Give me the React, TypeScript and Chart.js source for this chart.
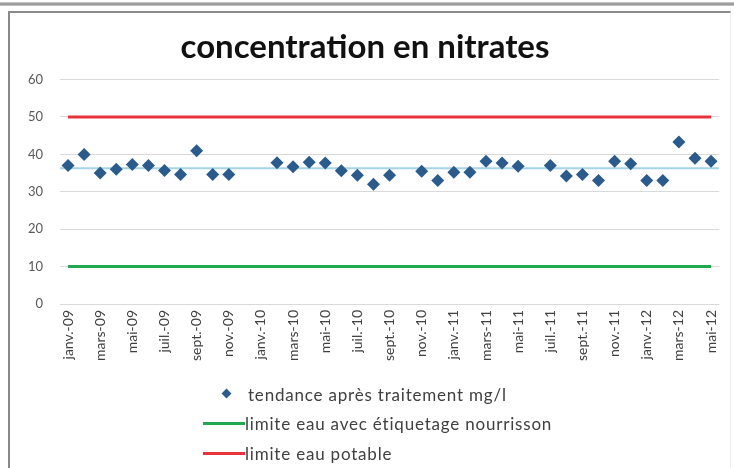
import React, { useEffect, useRef } from "react";
import { Chart, registerables } from "chart.js";

Chart.register(...registerables);

const TITLE = "concentration en nitrates";

const MONTHS = [
  "janv.-09", "févr.-09", "mars-09", "avr.-09", "mai-09", "juin-09", "juil.-09", "août-09", "sept.-09", "oct.-09", "nov.-09", "déc.-09",
  "janv.-10", "févr.-10", "mars-10", "avr.-10", "mai-10", "juin-10", "juil.-10", "août-10", "sept.-10", "oct.-10", "nov.-10", "déc.-10",
  "janv.-11", "févr.-11", "mars-11", "avr.-11", "mai-11", "juin-11", "juil.-11", "août-11", "sept.-11", "oct.-11", "nov.-11", "déc.-11",
  "janv.-12", "févr.-12", "mars-12", "avr.-12", "mai-12",
];

const NITRATES: (number | null)[] = [
  37, 40, 35, 36, 37.3, 37, 35.7, 34.6, 41, 34.6, 34.6, null,
  null, 37.8, 36.7, 37.9, 37.7, 35.6, 34.4, 32, 34.4, null, 35.5, 33,
  35.2, 35.2, 38.2, 37.7, 36.8, null, 37, 34.2, 34.6, 33, 38.2, 37.5,
  33, 33, 43.3, 39, 38.2,
];

const TREND_LEVEL = 36.3;
const LIMIT_INFANT = 10;
const LIMIT_DRINKING = 50;

const Y_TICKS = [0, 10, 20, 30, 40, 50, 60];

const SERIES_LABELS = [
  "tendance après traitement mg/l",
  "limite eau avec étiquetage nourrisson",
  "limite eau potable",
];

const COLORS = {
  marker: "#2b5b8c",
  infant: "#22a84f",
  drinking: "#e8323c",
  trend: "#a6d3e8",
};

const FONT = "Lato, 'Open Sans', sans-serif";

function Legend() {
  const row: React.CSSProperties = {
    position: "absolute",
    left: 0,
    height: 20,
    display: "flex",
    alignItems: "center",
    whiteSpace: "nowrap",
    fontFamily: FONT,
    fontSize: 17,
    letterSpacing: 0.8,
    color: "#404040",
  };
  return (
    <div style={{ position: "absolute", left: 203, top: 384, width: 500, height: 84 }}>
      <div style={{ ...row, top: 0 }}>
        <div style={{ width: 42, height: 20, position: "relative" }}>
          <div
            style={{
              position: "absolute",
              left: 20,
              top: 6,
              width: 7,
              height: 7,
              background: COLORS.marker,
              transform: "rotate(45deg)",
            }}
          />
        </div>
        <span style={{ marginLeft: 3 }}>{SERIES_LABELS[0]}</span>
      </div>
      <div style={{ ...row, top: 29 }}>
        <div style={{ width: 42, height: 3, background: COLORS.infant }} />
        <span>{SERIES_LABELS[1]}</span>
      </div>
      <div style={{ ...row, top: 59 }}>
        <div style={{ width: 42, height: 3, background: COLORS.drinking }} />
        <span>{SERIES_LABELS[2]}</span>
      </div>
    </div>
  );
}

export default function App() {
  const ref = useRef<HTMLCanvasElement | null>(null);

  useEffect(() => {
    if (!ref.current) return;
    const chart = new Chart(ref.current, {
      type: "line",
      data: {
        labels: MONTHS,
        datasets: [
          {
            label: SERIES_LABELS[0],
            data: NITRATES,
            showLine: false,
            pointStyle: "rectRot",
            pointRadius: 6.5,
            pointBackgroundColor: COLORS.marker,
            pointBorderColor: COLORS.marker,
            pointBorderWidth: 0,
            borderColor: COLORS.marker,
            backgroundColor: COLORS.marker,
          },
          {
            label: "trend",
            data: MONTHS.map(() => TREND_LEVEL),
            xAxisID: "x2",
            borderColor: COLORS.trend,
            borderWidth: 2,
            pointRadius: 0,
          },
          {
            label: SERIES_LABELS[1],
            data: MONTHS.map(() => LIMIT_INFANT),
            borderColor: COLORS.infant,
            borderWidth: 3,
            pointRadius: 0,
          },
          {
            label: SERIES_LABELS[2],
            data: MONTHS.map(() => LIMIT_DRINKING),
            borderColor: COLORS.drinking,
            borderWidth: 3,
            pointRadius: 0,
          },
        ],
      },
      options: {
        responsive: false,
        animation: false,
        devicePixelRatio: 1,
        layout: { padding: { left: 8, right: 12, top: 0, bottom: 102 } },
        plugins: {
          legend: { display: false },
          tooltip: { enabled: false },
          title: {
            display: true,
            text: TITLE,
            color: "#111111",
            font: { family: FONT, size: 33, weight: "bold" },
            padding: { top: 28, bottom: 12 },
          },
        },
        scales: {
          x: {
            type: "category",
            offset: true,
            grid: { display: false, drawTicks: false },
            border: { display: false },
            afterFit: (s: any) => {
              s.height = 62;
            },
            ticks: {
              autoSkip: false,
              maxRotation: 90,
              minRotation: 90,
              padding: 6,
              color: "#404040",
              font: { family: FONT, size: 14 },
              callback: (_v: any, i: number) => (i % 2 === 0 ? MONTHS[i] : ""),
            },
          },
          x2: {
            type: "category",
            offset: false,
            display: false,
          },
          y: {
            min: Y_TICKS[0],
            max: Y_TICKS[Y_TICKS.length - 1],
            afterFit: (s: any) => {
              s.width = 52;
            },
            afterBuildTicks: (s: any) => {
              s.ticks = Y_TICKS.map((v) => ({ value: v }));
            },
            grid: { color: "#d9d9d9", drawTicks: false, lineWidth: 1 },
            border: { display: false },
            ticks: {
              padding: 17,
              color: "#595959",
              font: { family: FONT, size: 13 },
            },
          },
        },
      },
    });
    return () => chart.destroy();
  }, []);

  return (
    <div style={{ position: "fixed", left: 0, top: 0, width: 734, height: 468, background: "#ffffff", overflow: "hidden" }}>
      <div
        style={{
          position: "absolute",
          left: 0,
          top: 2,
          width: 734,
          height: 4,
          background: "linear-gradient(#d8d8d8, #8c8c8c, #cfcfcf)",
        }}
      />
      <div
        style={{
          position: "absolute",
          left: 8,
          top: 11,
          width: 720,
          height: 470,
          borderTop: "2px solid #8a8a8a",
          borderLeft: "2px solid #8a8a8a",
          borderRight: "1px solid #ececec",
        }}
      />
      <canvas ref={ref} width={734} height={468} style={{ position: "absolute", left: 0, top: 0, width: 734, height: 468 }} />
      <Legend />
    </div>
  );
}
